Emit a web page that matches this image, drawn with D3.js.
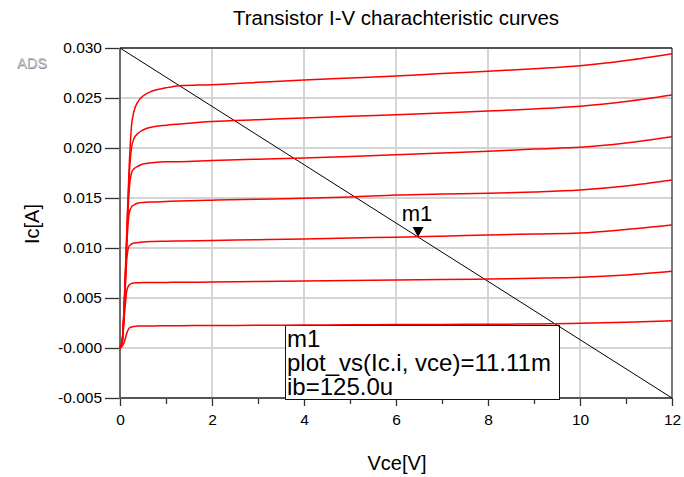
<!DOCTYPE html>
<html>
<head>
<meta charset="utf-8">
<script src="https://cdn.jsdelivr.net/npm/d3@7"></script>
<style>
  html, body { margin: 0; padding: 0; background: #fff; }
  svg { display: block; font-family: "Liberation Sans", Arial, sans-serif; }
</style>
</head>
<body>
<svg id="chart" width="684" height="477"></svg>
<script>
// Collector-emitter sweep points (V)
const vce = [0, 0.05, 0.1, 0.15, 0.2, 0.25, 0.3, 0.4, 0.5, 0.7, 1.0, 1.3, 2, 3, 4, 5, 6, 7, 8, 9, 10, 11, 12];

// Base currents of the swept family (A)
const ib = [25e-6, 75e-6, 125e-6, 175e-6, 225e-6, 275e-6, 325e-6];

// Collector current (A) for each base current, one array per curve
const ic1 = [0, .0002, .0007, .0015, .0020, .0021, .00216, .0022, .0022, .00221, .00222, .00223, .00225, .00227, .0023, .00232, .00234, .00236, .00238, .0024, .00247, .00257, .00273];
const ic2 = [0, .0006, .0035, .0058, .0063, .00645, .0065, .00652, .00654, .00655, .00656, .00657, .0066, .00665, .0067, .00675, .0068, .00685, .0069, .00697, .00707, .0073, .00767];
const ic3 = [0, .0007, .0045, .0090, .0102, .0104, .0105, .01055, .0106, .01065, .01068, .0107, .01075, .01083, .0109, .0110, .01108, .01118, .0113, .0114, .0115, .01185, .0123];
const ic4 = [0, .0007, .0048, .0105, .0135, .0141, .0143, .0145, .01455, .0146, .01465, .0147, .01478, .01488, .01497, .0151, .0153, .0154, .01547, .0156, .0158, .0162, .0168];
const ic5 = [0, .0008, .0050, .0110, .0158, .0175, .0179, .0182, .0184, .01853, .01862, .01863, .01875, .01888, .0190, .01915, .01933, .0195, .01967, .0199, .02007, .0205, .02113];
const ic6 = [0, .0008, .0053, .0115, .0172, .0200, .0209, .0215, .0218, .0221, .02228, .0224, .02265, .02283, .0230, .02318, .02333, .0235, .0237, .0239, .02417, .02465, .0253];
const ic7 = [0, .0008, .0055, .0120, .0182, .0222, .0236, .0247, .0252, .0257, .02602, .02623, .02633, .02657, .0268, .0270, .0272, .02745, .02767, .02793, .02823, .02875, .02943];
const icCurves = [ic1, ic2, ic3, ic4, ic5, ic6, ic7];

// Load line end points
const loadV = [0, 12];
const loadI = [0.030, -0.005];

// Marker m1 on the load line (curve with ib = 125u)
const markerName = "m1";
const markerV = 6.48;
const markerI = 0.01111;
const markerCurve = 2;

// Axis ticks and labels
const xTicks = [0, 2, 4, 6, 8, 10, 12];
const xMinorTicks = [1, 3, 5, 7, 9, 11];
const yTicks = [0.030, 0.025, 0.020, 0.015, 0.010, 0.005, 0.000, -0.005];
const yTickLabels = ["0.030", "0.025", "0.020", "0.015", "0.010", "0.005", "-0.000", "-0.005"];

const title = "Transistor I-V charachteristic curves";
const xTitle = "Vce[V]";
const yTitle = "Ic[A]";

const svg = d3.select("#chart");
const plotL = 120, plotR = 672, plotT = 48, plotB = 398;

const x = d3.scaleLinear().domain([0, 12]).range([plotL, plotR]);
const y = d3.scaleLinear().domain([-0.005, 0.030]).range([plotB, plotT]);

// Grid
const grid = svg.append("g");
grid.selectAll("line.gx").data(xTicks.slice(1, -1)).join("line")
  .attr("x1", d => x(d)).attr("x2", d => x(d))
  .attr("y1", plotT).attr("y2", plotB)
  .attr("stroke", "#c8c8c8").attr("stroke-width", 1.5);
grid.selectAll("line.gy").data(yTicks.slice(1, -1)).join("line")
  .attr("x1", plotL).attr("x2", plotR)
  .attr("y1", d => y(d)).attr("y2", d => y(d))
  .attr("stroke", "#d4d4d4").attr("stroke-width", 2);

// Axes
const xAxis = d3.axisBottom(x).tickValues(xTicks).tickSize(8).tickPadding(8)
  .tickFormat(d3.format("d"));
const gx = svg.append("g").attr("transform", `translate(0,${plotB})`).call(xAxis);
gx.select(".domain").remove();
gx.selectAll(".tick line").attr("stroke", "#333").attr("stroke-width", 1.3);
gx.selectAll(".tick text").attr("font-size", 15.5).attr("fill", "#000")
  .attr("font-family", "Liberation Sans, Arial, sans-serif");

const xMinor = d3.axisBottom(x).tickValues(xMinorTicks).tickSize(6).tickFormat("");
const gxm = svg.append("g").attr("transform", `translate(0,${plotB})`).call(xMinor);
gxm.select(".domain").remove();
gxm.selectAll(".tick line").attr("stroke", "#333").attr("stroke-width", 1.3);

const yAxis = d3.axisLeft(y).tickValues(yTicks).tickSize(15).tickPadding(3)
  .tickFormat((d, i) => yTickLabels[i]);
const gy = svg.append("g").attr("transform", `translate(${plotL},0)`).call(yAxis);
gy.select(".domain").remove();
gy.selectAll(".tick line").attr("stroke", "#333").attr("stroke-width", 1.3);
gy.selectAll(".tick text").attr("font-size", 15.5).attr("fill", "#000")
  .attr("font-family", "Liberation Sans, Arial, sans-serif");

// Plot frame
svg.append("line").attr("x1", plotL).attr("x2", plotR).attr("y1", plotT).attr("y2", plotT)
  .attr("stroke", "#555").attr("stroke-width", 2);
svg.append("line").attr("x1", plotR).attr("x2", plotR).attr("y1", plotT).attr("y2", plotB)
  .attr("stroke", "#222").attr("stroke-width", 1.2);
svg.append("line").attr("x1", plotL).attr("x2", plotL).attr("y1", plotT).attr("y2", plotB + 1)
  .attr("stroke", "#6a6a6a").attr("stroke-width", 2);
svg.append("line").attr("x1", plotL).attr("x2", plotR).attr("y1", plotB).attr("y2", plotB)
  .attr("stroke", "#555").attr("stroke-width", 2);

// Marker readout box
const fmtMilli = v => (v * 1000).toFixed(2) + "m";
const fmtMicro = v => (v * 1e6).toFixed(1) + "u";
const box = svg.append("g");
box.append("rect").attr("x", 285.5).attr("y", 325.5).attr("width", 274).attr("height", 74)
  .attr("fill", "#fff").attr("stroke", "#111").attr("stroke-width", 1);
const boxLines = [markerName, `plot_vs(Ic.i, vce)=${fmtMilli(markerI)}`, `ib=${fmtMicro(ib[markerCurve])}`];
box.selectAll("text").data(boxLines).join("text")
  .attr("x", 287).attr("y", (d, i) => 347 + i * 24)
  .attr("font-size", 24).attr("fill", "#000")
  .text(d => d);

// Load line
svg.append("line")
  .attr("x1", x(loadV[0])).attr("y1", y(loadI[0]))
  .attr("x2", x(loadV[1])).attr("y2", y(loadI[1]))
  .attr("stroke", "#000").attr("stroke-width", 1);

// I-V curves
const line = d3.line()
  .x((d, i) => x(vce[i]))
  .y(d => y(d))
  .curve(d3.curveMonotoneX);
svg.append("g").selectAll("path").data(icCurves).join("path")
  .attr("d", line)
  .attr("fill", "none").attr("stroke", "#ff0000").attr("stroke-width", 1.5);

// Marker m1
const mx = x(markerV), my = y(markerI);
svg.append("path")
  .attr("d", `M${mx - 5.5},${my - 10} L${mx + 5.5},${my - 10} L${mx},${my} Z`)
  .attr("fill", "#000");
svg.append("text").attr("x", mx - 1).attr("y", my - 16)
  .attr("text-anchor", "middle").attr("font-size", 22).text(markerName);

// Titles
svg.append("text").attr("x", 396).attr("y", 25).attr("text-anchor", "middle")
  .attr("font-size", 20.5).text(title);
svg.append("text").attr("x", 397).attr("y", 470).attr("text-anchor", "middle")
  .attr("font-size", 20).text(xTitle);
svg.append("text").attr("transform", "translate(39,224) rotate(-90)")
  .attr("text-anchor", "middle").attr("font-size", 20).text(yTitle);

// Tool badge
svg.append("text").attr("x", 17.5).attr("y", 68.5).attr("font-size", 14.5)
  .attr("fill", "#888").text("ADS");
svg.append("text").attr("x", 17).attr("y", 68).attr("font-size", 14.5)
  .attr("fill", "#c4c4c4").text("ADS");
</script>
</body>
</html>
